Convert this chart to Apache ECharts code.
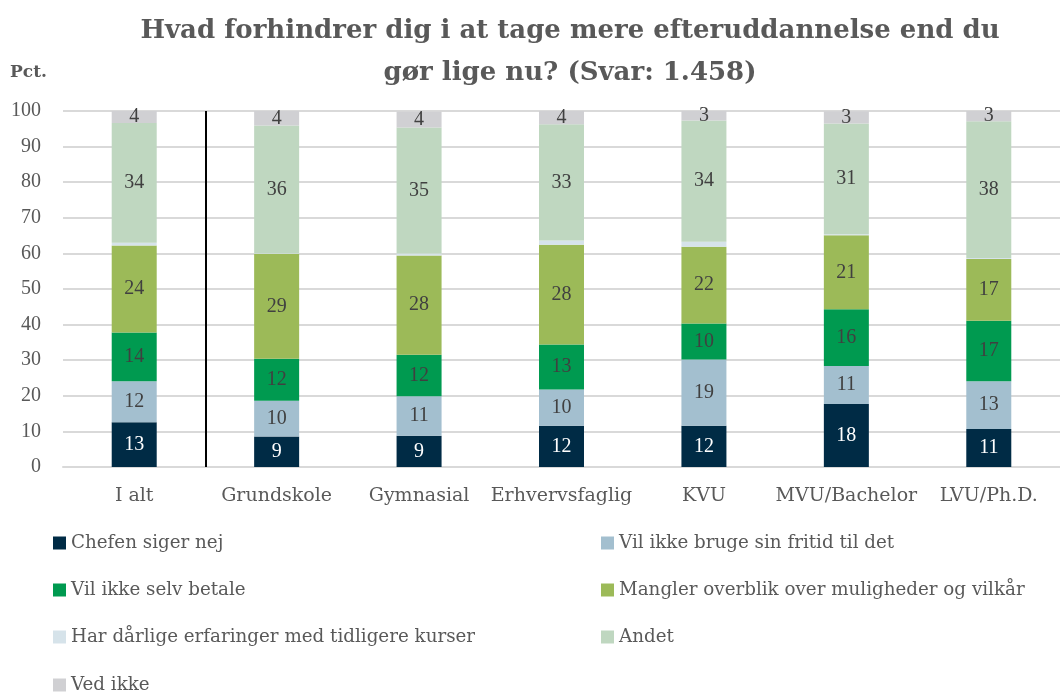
<!DOCTYPE html>
<html><head><meta charset="utf-8">
<script src="https://cdn.jsdelivr.net/npm/echarts@6/dist/echarts.min.js"></script>
<style>html,body{margin:0;padding:0;background:#fff}#c{width:1060px;height:695px}</style>
</head><body><div id="c"></div>
<script>
const categories = ['I alt','Grundskole','Gymnasial','Erhvervsfaglig','KVU','MVU/Bachelor','LVU/Ph.D.'];
const seriesNames = ['Chefen siger nej','Vil ikke bruge sin fritid til det','Vil ikke selv betale','Mangler overblik over muligheder og vilkår','Har dårlige erfaringer med tidligere kurser','Andet','Ved ikke'];
const chefen    = [12.6, 8.6, 8.8, 11.6, 11.6, 17.7, 10.7];
const fritid    = [11.5, 10.0, 11.1, 10.2, 18.6, 10.7, 13.4];
const selv      = [13.7, 11.8, 11.6, 12.6, 10.1, 15.9, 17.0];
const overblik  = [24.4, 29.4, 27.9, 28.0, 21.6, 20.8, 17.3];
const daarlige  = [0.8, 0.2, 0.6, 1.2, 1.4, 0.3, 0.3];
const andet     = [33.6, 35.9, 35.4, 32.7, 34.0, 31.1, 38.4];
const vedIkke   = [3.5, 4.1, 4.4, 3.7, 2.7, 3.4, 2.9];
const yTicks = [0,10,20,30,40,50,60,70,80,90,100];
const separatorAfter = 1; // vertical divider after the first category ("I alt")
const colors = ['#002B45','#A3BFCF','#009A50','#9CBA58','#D6E3EA','#BFD7C0','#D0D0D3'];
const values = [chefen, fritid, selv, overblik, daarlige, andet, vedIkke];
const WFONT = "'DejaVu Serif', serif";
const NFONT = "'Liberation Serif', serif";
const GREY = '#595959';

const series = seriesNames.map((n,i)=>({
  name:n, type:'bar', stack:'s', barWidth:45, data:values[i],
  itemStyle:{color:colors[i]},
  label:{show:i!==4, position:'inside', fontFamily:NFONT, fontSize:20,
    color: i===0 ? '#ffffff' : '#404040',
    formatter:p=>Math.round(p.value)},
  emphasis:{disabled:true}
}));
// divider line drawn through a hidden value axis spanning the categories
series.push({type:'line', xAxisIndex:1, yAxisIndex:0, data:[], silent:true,
  markLine:{silent:true, symbol:'none', label:{show:false}, animation:false,
    lineStyle:{color:'#000', width:2, type:'solid'}, data:[{xAxis:separatorAfter}]}});

const legendPos = [[48,529],[596,529],[48,576],[596,576],[48,623],[596,623],[48,671]];
const legends = seriesNames.map((n,i)=>({
  data:[n], left:legendPos[i][0], top:legendPos[i][1], itemWidth:13, itemHeight:13, itemGap:5,
  icon:'rect', textStyle:{fontFamily:WFONT, fontSize:18.3, color:GREY}
}));

const chart = echarts.init(document.getElementById('c'));
chart.setOption({
  animation:false,
  title:{text:'Hvad forhindrer dig i at tage mere efteruddannelse end du\ngør lige nu? (Svar: 1.458)', left:565, top:5, textAlign:'center',
    textStyle:{fontFamily:WFONT, fontWeight:'bold', fontSize:26, color:GREY, lineHeight:42}},
  legend:legends,
  graphic:[{type:'text', left:10, top:64, style:{text:'Pct.', font:"bold 17px 'DejaVu Serif'", fill:GREY}}],
  grid:{left:63, top:111, width:1004, height:356, containLabel:false},
  xAxis:[{type:'category', data:categories,
    axisLine:{lineStyle:{color:'#d9d9d9', width:2}}, axisTick:{show:false},
    axisLabel:{interval:0, fontFamily:WFONT, fontSize:19, color:GREY, margin:20}},
    {type:'value', min:0, max:categories.length, show:false}],
  yAxis:{type:'value', min:0, max:100, interval:10,
    axisLine:{show:false}, axisTick:{show:false},
    axisLabel:{fontFamily:NFONT, fontSize:20, color:GREY, margin:22, formatter:v=>yTicks.includes(v)?String(v):''},
    splitLine:{lineStyle:{color:'#d9d9d9', width:2}}},
  series
});
</script></body></html>
